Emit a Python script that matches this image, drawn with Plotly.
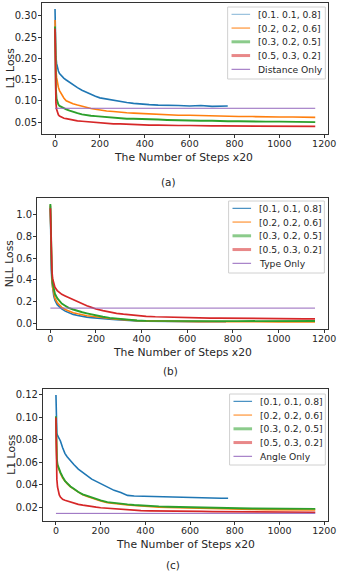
import plotly.graph_objects as go

# step positions (blue runs stop at ~770)
STEPS = [0, 2, 4, 7, 10, 15, 20, 30, 40, 50, 65, 80, 100, 120, 140, 160, 180, 200,
         230, 260, 290, 320, 350, 380, 420, 460, 500, 550, 600, 650, 700, 740, 770,
         820, 880, 940, 1000, 1060, 1110, 1160]
STEPS_SHORT = STEPS[:33]
FLAT_STEPS = [0, 1160]

WEIGHTS = ["[0.1. 0.1, 0.8]", "[0.2, 0.2, 0.6]", "[0.3, 0.2, 0.5]", "[0.5, 0.3, 0.2]"]
WEIGHTS_B = ["[0.1, 0.1, 0.8]", "[0.2, 0.2, 0.6]", "[0.3, 0.2, 0.5]", "[0.5, 0.3, 0.2]"]

# (a) distance L1 loss
A_BLUE = [0.316, 0.235, 0.205, 0.188, 0.179, 0.170, 0.164, 0.158, 0.153, 0.149, 0.143,
          0.138, 0.131, 0.125, 0.120, 0.116, 0.111, 0.107, 0.104, 0.101, 0.098, 0.096,
          0.094, 0.092, 0.091, 0.090, 0.090, 0.089, 0.088, 0.089, 0.087, 0.088, 0.088]
A_ORANGE = [0.290, 0.210, 0.175, 0.155, 0.145, 0.132, 0.124, 0.113, 0.106, 0.100, 0.096,
            0.093, 0.090, 0.087, 0.084, 0.082, 0.080, 0.078, 0.076, 0.075, 0.073, 0.072,
            0.071, 0.070, 0.069, 0.068, 0.067, 0.066, 0.066, 0.065, 0.065, 0.064, 0.064,
            0.063, 0.063, 0.062, 0.062, 0.062, 0.061, 0.061]
A_GREEN = [0.275, 0.160, 0.125, 0.105, 0.097, 0.091, 0.088, 0.085, 0.082, 0.080, 0.077,
           0.074, 0.071, 0.068, 0.066, 0.065, 0.064, 0.063, 0.061, 0.060, 0.059, 0.058,
           0.058, 0.057, 0.056, 0.056, 0.055, 0.054, 0.054, 0.053, 0.053, 0.052, 0.052,
           0.052, 0.051, 0.051, 0.051, 0.050, 0.050, 0.050]
A_RED = [0.270, 0.130, 0.095, 0.080, 0.073, 0.067, 0.064, 0.061, 0.059, 0.058, 0.056,
         0.055, 0.053, 0.052, 0.051, 0.050, 0.049, 0.048, 0.047, 0.046, 0.046, 0.045,
         0.044, 0.044, 0.043, 0.043, 0.042, 0.042, 0.042, 0.041, 0.041, 0.041, 0.041,
         0.041, 0.040, 0.040, 0.040, 0.040, 0.040, 0.040]
A_ONLY = [0.0825, 0.0825]

# (b) type NLL loss
B_BLUE = [1.08, 0.70, 0.50, 0.38, 0.31, 0.25, 0.21, 0.17, 0.15, 0.13, 0.11, 0.095, 0.080,
          0.070, 0.060, 0.055, 0.050, 0.045, 0.040, 0.035, 0.030, 0.025, 0.022, 0.020,
          0.018, 0.016, 0.015, 0.014, 0.013, 0.013, 0.012, 0.012, 0.012]
B_ORANGE = [1.09, 0.72, 0.52, 0.40, 0.33, 0.27, 0.23, 0.19, 0.165, 0.145, 0.125, 0.110,
            0.095, 0.085, 0.075, 0.068, 0.062, 0.056, 0.048, 0.042, 0.036, 0.030, 0.025,
            0.022, 0.020, 0.018, 0.016, 0.015, 0.014, 0.013, 0.013, 0.012, 0.012, 0.012,
            0.012, 0.011, 0.011, 0.011, 0.011, 0.011]
B_GREEN = [1.10, 0.75, 0.56, 0.44, 0.37, 0.31, 0.27, 0.23, 0.20, 0.18, 0.16, 0.14, 0.125,
           0.110, 0.100, 0.090, 0.080, 0.070, 0.058, 0.048, 0.040, 0.033, 0.027, 0.023,
           0.020, 0.019, 0.018, 0.018, 0.018, 0.018, 0.018, 0.018, 0.018, 0.018, 0.018,
           0.018, 0.019, 0.019, 0.019, 0.019]
B_RED = [1.06, 0.78, 0.60, 0.48, 0.41, 0.36, 0.33, 0.30, 0.28, 0.265, 0.25, 0.235, 0.215,
         0.195, 0.175, 0.160, 0.145, 0.130, 0.115, 0.100, 0.090, 0.082, 0.075, 0.068,
         0.062, 0.058, 0.055, 0.052, 0.050, 0.048, 0.046, 0.045, 0.044, 0.043, 0.042,
         0.041, 0.040, 0.040, 0.039, 0.039]
B_ONLY = [0.138, 0.138]

# (c) angle L1 loss
C_BLUE = [0.120, 0.095, 0.086, 0.084, 0.083, 0.081, 0.079, 0.073, 0.068, 0.065, 0.061,
          0.058, 0.054, 0.051, 0.048, 0.045, 0.043, 0.041, 0.038, 0.035, 0.033, 0.0305,
          0.030, 0.0298, 0.0295, 0.0292, 0.029, 0.0288, 0.0285, 0.0283, 0.028, 0.028, 0.028]
C_ORANGE = [0.100, 0.075, 0.062, 0.057, 0.055, 0.052, 0.050, 0.046, 0.043, 0.041, 0.038,
            0.036, 0.033, 0.031, 0.0295, 0.028, 0.027, 0.0255, 0.024, 0.0232, 0.0225,
            0.022, 0.0215, 0.021, 0.0205, 0.020, 0.0198, 0.0195, 0.0192, 0.019, 0.0188,
            0.0186, 0.0185, 0.0183, 0.018, 0.0178, 0.0177, 0.0176, 0.0175, 0.0175]
C_GREEN = [0.101, 0.076, 0.063, 0.058, 0.056, 0.053, 0.051, 0.047, 0.0435, 0.0415, 0.0385,
           0.0365, 0.0335, 0.0315, 0.030, 0.0285, 0.0275, 0.026, 0.0245, 0.0237, 0.023,
           0.0225, 0.022, 0.0215, 0.021, 0.0207, 0.0204, 0.0201, 0.0198, 0.0196, 0.0194,
           0.0193, 0.0192, 0.019, 0.0189, 0.0188, 0.0187, 0.0186, 0.0185, 0.0185]
C_RED = [0.100, 0.060, 0.045, 0.038, 0.034, 0.031, 0.029, 0.027, 0.0262, 0.0255, 0.0245,
         0.0235, 0.0225, 0.0218, 0.021, 0.0205, 0.020, 0.0195, 0.019, 0.0185, 0.018,
         0.0175, 0.0172, 0.017, 0.0168, 0.0166, 0.0165, 0.0164, 0.0163, 0.0162, 0.0161,
         0.016, 0.016, 0.0159, 0.0158, 0.0157, 0.0157, 0.0156, 0.0155, 0.0155]
C_ONLY = [0.0145, 0.0145]

BLUE, ORANGE, GREEN, RED, PURPLE = "#1f77b4", "#ff7f0e", "#2ca02c", "#d62728", "#9467bd"
FONT = "DejaVu Sans"
TXT = "#262626"
W, H = 347, 573


def px(x):
    return x / W


def py(y):
    return 1 - y / H


PANELS = [
    {"ax": "", "x": (43, 336), "y": (3, 134), "range": [0.022, 0.330],
     "ticks": [0.05, 0.10, 0.15, 0.20, 0.25, 0.30], "fmt": ".2f",
     "series": [A_BLUE, A_ORANGE, A_GREEN, A_RED], "only": A_ONLY,
     "names": WEIGHTS, "only_name": "Distance Only", "ytitle": "L1 Loss",
     "ytitle_x": 11, "xtitle": (188, 157), "cap": ("(a)", 172, 182),
     "blue_legend": "rgba(31,119,180,0.55)", "legbox": (233, 7, 100, 72)},
    {"ax": "2", "x": (38, 336), "y": (198, 329), "range": [-0.055, 1.155],
     "ticks": [0.0, 0.2, 0.4, 0.6, 0.8, 1.0], "fmt": ".1f",
     "series": [B_BLUE, B_ORANGE, B_GREEN, B_RED], "only": B_ONLY,
     "names": WEIGHTS_B, "only_name": "Type Only", "ytitle": "NLL Loss",
     "ytitle_x": 10, "xtitle": (187, 352), "cap": ("(b)", 175, 371),
     "blue_legend": BLUE, "legbox": (234, 201, 98, 72)},
    {"ax": "3", "x": (44, 336), "y": (389, 521), "range": [0.0077, 0.1253],
     "ticks": [0.02, 0.04, 0.06, 0.08, 0.10, 0.12], "fmt": ".2f",
     "series": [C_BLUE, C_ORANGE, C_GREEN, C_RED], "only": C_ONLY,
     "names": WEIGHTS_B, "only_name": "Angle Only", "ytitle": "L1 Loss",
     "ytitle_x": 11, "xtitle": (190, 544), "cap": ("(c)", 177, 565),
     "blue_legend": BLUE, "legbox": (235, 394, 98, 71)},
]

fig = go.Figure()
layout = {}
annotations = []
shapes = []

for p in PANELS:
    xa, ya = "x" + p["ax"], "y" + p["ax"]
    colors = [BLUE, ORANGE, GREEN, RED]
    widths = [1.6, 1.6, 1.9, 1.7]
    for i, vals in enumerate(p["series"]):
        xs = STEPS_SHORT if i == 0 else STEPS
        fig.add_trace(go.Scatter(x=xs, y=vals, mode="lines", xaxis=xa, yaxis=ya,
                                 name=p["names"][i],
                                 line={"color": colors[i], "width": widths[i]},
                                 showlegend=False, hoverinfo="skip"))
    fig.add_trace(go.Scatter(x=FLAT_STEPS, y=p["only"], mode="lines", xaxis=xa, yaxis=ya,
                             name=p["only_name"], line={"color": PURPLE, "width": 1},
                             showlegend=False, hoverinfo="skip"))

    x0, x1 = p["x"]
    y0, y1 = p["y"]
    axis_common = {"showline": True, "mirror": True, "linecolor": "#333333", "linewidth": 1,
                   "ticks": "outside", "ticklen": 3, "tickcolor": "#333333",
                   "showgrid": False, "zeroline": False}
    layout["xaxis" + p["ax"]] = dict(axis_common, domain=[px(x0), px(x1)], range=[-58, 1218],
                                     tickvals=[0, 200, 400, 600, 800, 1000, 1200],
                                     ticklabelstandoff=-2, anchor=ya,
                                     tickfont={"size": 9.5, "color": TXT, "family": FONT})
    layout["yaxis" + p["ax"]] = dict(axis_common, domain=[py(y1), py(y0)],
                                     range=p["range"], tickvals=p["ticks"],
                                     tickformat=p["fmt"], anchor=xa, ticklabelstandoff=-1,
                                     tickfont={"size": 10, "color": TXT, "family": FONT})

    # matplotlib-style legend box
    lx, ly, lw, lh = p["legbox"]
    shapes.append({"type": "rect", "xref": "paper", "yref": "paper",
                   "x0": px(lx), "x1": px(lx + lw), "y0": py(ly + lh), "y1": py(ly),
                   "fillcolor": "white", "line": {"color": "#d0d0d0", "width": 1}})
    leg_colors = [p["blue_legend"], ORANGE, "rgba(44,160,44,0.55)", "rgba(214,39,40,0.55)", PURPLE]
    leg_widths = [1, 1, 3, 3, 1]
    labels = p["names"] + [p["only_name"]]
    for i, (name, c, w) in enumerate(zip(labels, leg_colors, leg_widths)):
        row = ly + 7.3 + 13.75 * i
        shapes.append({"type": "line", "xref": "paper", "yref": "paper",
                       "x0": px(lx + 4), "x1": px(lx + 23), "y0": py(row), "y1": py(row),
                       "line": {"color": c, "width": w}})
        annotations.append({"text": name, "x": px(lx + 29), "y": py(row), "xref": "paper",
                            "yref": "paper", "xanchor": "left", "yanchor": "middle",
                            "showarrow": False,
                            "font": {"size": 9.2, "color": TXT, "family": FONT}})

    annotations.append({"text": p["ytitle"], "x": px(p["ytitle_x"]), "y": py((y0 + y1) / 2),
                        "xref": "paper", "yref": "paper", "xanchor": "center",
                        "yanchor": "middle", "showarrow": False, "textangle": -90,
                        "font": {"size": 10.8, "color": TXT, "family": FONT}})
    annotations.append({"text": "The Number of Steps x20", "x": px(p["xtitle"][0]),
                        "y": py(p["xtitle"][1]), "xref": "paper", "yref": "paper",
                        "xanchor": "center", "yanchor": "middle", "showarrow": False,
                        "font": {"size": 10.8, "color": TXT, "family": FONT}})
    annotations.append({"text": p["cap"][0], "x": px(p["cap"][1]), "y": py(p["cap"][2]),
                        "xref": "paper", "yref": "paper", "xanchor": "center",
                        "yanchor": "middle", "showarrow": False,
                        "font": {"size": 10.5, "color": TXT, "family": FONT}})

fig.update_layout(width=W, height=H, margin={"l": 0, "r": 0, "t": 0, "b": 0},
                  paper_bgcolor="white", plot_bgcolor="white", showlegend=False,
                  font={"family": FONT, "color": TXT}, annotations=annotations,
                  shapes=shapes, **layout)

fig.write_html("out.html", config={"displayModeBar": False},
               post_script="document.body.style.margin = '0';")
